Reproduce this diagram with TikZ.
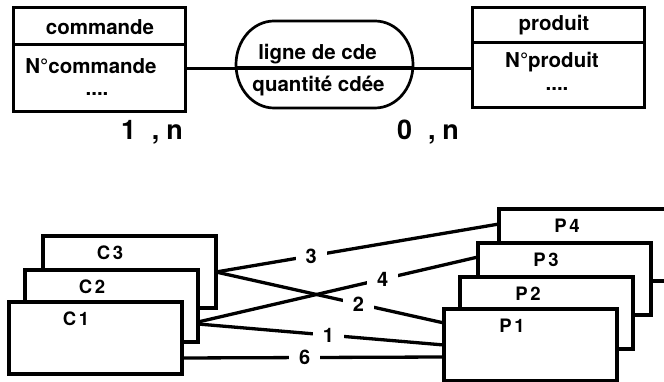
\documentclass[tikz,border=0pt]{standalone}
\usepackage{fontspec}
\setmainfont{TeX Gyre Heros}
\begin{document}
\begin{tikzpicture}[x=1pt,y=-1pt,
  every node/.style={inner sep=0pt, outer sep=0pt},
  txt/.style={font=\bfseries\fontsize{20.5}{24}\selectfont, anchor=base},
  card/.style={font=\bfseries\fontsize{27}{30}\selectfont, anchor=base west},
  entbox/.style={draw, line width=3pt, minimum width=172pt, anchor=north west},
  inst/.style={draw, fill=white, line width=3.3pt, minimum width=173pt, minimum height=72pt, anchor=north west},
  instlab/.style={font=\bfseries\fontsize{18.5}{21}\selectfont, anchor=center},
  link/.style={line width=2.3pt},
  conn/.style={line width=3.3pt},
  num/.style={fill=white, inner xsep=10pt, inner ysep=1pt, font=\bfseries\fontsize{20}{22}\selectfont}]
\useasboundingbox (0,0) rectangle (664,382);
% ---- top: entity / association ----
\node[entbox, minimum height=103.5pt] (cmd) at (13,8) {};
\draw[line width=3pt] (cmd.west |- 0,45) -- (cmd.east |- 0,45);
\node[txt] (cmdt) at (100,35) {commande};
\node[txt] (cmdk) at (91,74) {N°commande};
\node[txt] (cmdd) at (97,96) {....};

\node[entbox, minimum height=100pt] (prd) at (472,8) {};
\draw[line width=3pt] (prd.west |- 0,43) -- (prd.east |- 0,43);
\node[txt] (prdt) at (554,31) {produit};
\node[txt] (prdk) at (552,68) {N°produit};
\node[txt] (prdd) at (557,91) {....};

\node[minimum width=177pt, minimum height=87pt] (assoc) at (324.5,64.5) {};
\draw[line width=2.7pt] (274,21) -- (375,21)
  .. controls (396,21) and (413,40.5) .. (413,64.5)
  .. controls (413,88.5) and (396,108) .. (375,108)
  -- (274,108)
  .. controls (253,108) and (236,88.5) .. (236,64.5)
  .. controls (236,40.5) and (253,21) .. (274,21) -- cycle;
\draw[line width=3.5pt] (assoc.west |- 0,68) -- (assoc.east |- 0,68);
\node[txt] (at1) at (317.5,59.5) {ligne de cde};
\node[txt] (at2) at (318.5,92) {quantité cdée};
\draw[link] (cmd.east |- 0,68.5) -- (assoc.west |- 0,68.5);
\draw[link] (assoc.east |- 0,68.5) -- (prd.west |- 0,68.5);

\node[card] (c1) at (121,140) {1\hspace{16pt},\hspace{7pt}n};
\node[card] (c2) at (397,140) {0\hspace{16pt},\hspace{7pt}n};

% ---- bottom: occurrences ----
\node[inst] (C3) at (43,236) {};
\node[instlab] (C3t) at ([xshift=67pt,yshift=-17pt]C3.north west) {C\kern2.5pt 3};
\node[inst] (C2) at (25,270) {};
\node[instlab] (C2t) at ([xshift=67pt,yshift=-17pt]C2.north west) {C\kern2.5pt 2};
\node[inst] (C1) at (9,302) {};
\node[instlab] (C1t) at ([xshift=67pt,yshift=-17pt]C1.north west) {C\kern2.5pt 1};

\node[inst] (P4) at (499,209) {};
\node[instlab] (P4t) at ([xshift=68pt,yshift=-17pt]P4.north west) {P\kern2.5pt 4};
\node[inst] (P3) at (478,243) {};
\node[instlab] (P3t) at ([xshift=68pt,yshift=-17pt]P3.north west) {P\kern2.5pt 3};
\node[inst] (P2) at (460,277) {};
\node[instlab] (P2t) at ([xshift=68pt,yshift=-17pt]P2.north west) {P\kern2.5pt 2};
\node[inst] (P1) at (444,309) {};
\node[instlab] (P1t) at ([xshift=68pt,yshift=-17pt]P1.north west) {P\kern2.5pt 1};

\draw[conn] (C3.east) -- node[num, pos=0.336] {3} ([yshift=21pt]P4.west);
\draw[conn] (C3.east) -- node[num, pos=0.625] {2} ([yshift=22pt]P1.west);
\draw[conn] ([yshift=-16pt]C2.east) -- node[num, pos=0.66] {4} ([yshift=22pt]P3.west);
\draw[conn] ([yshift=-18pt]C2.east) -- node[num, pos=0.53] {1} (P1.west);
\draw[conn] ([yshift=-20pt,xshift=-1pt]C1.east) -- node[num, pos=0.47] {6} ([yshift=-12pt]P1.west);
\end{tikzpicture}
\end{document}
